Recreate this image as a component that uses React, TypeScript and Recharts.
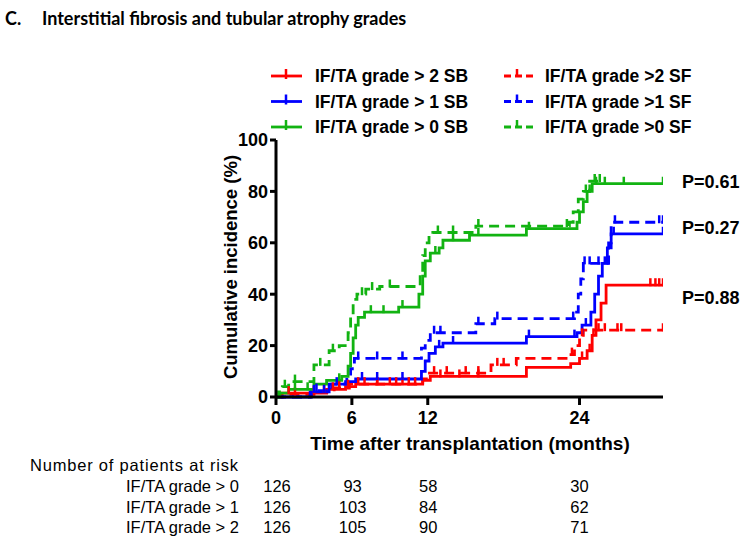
import React from "react";
import { LineChart, Line, XAxis, YAxis, ReferenceDot } from "recharts";

// time after transplantation (months), cumulative incidence (%)
const xTicks = [0, 6, 12, 24];
const yTicks = [0, 20, 40, 60, 80, 100];
const tMax = 30.6;

const sbGt2Steps = [[0, 0], [0.4, 1.5], [4, 3], [5.5, 4], [6.3, 5], [11.6, 6.5], [12.2, 8], [19.8, 11.5], [23.3, 13], [24, 15], [24.6, 18], [25, 24], [25.3, 30], [25.7, 36.5], [26.1, 43.5]];
const sbGt2Censor = [1, 3, 4.5, 5.7, 7, 8, 9, 10, 11, 13, 14.5, 16, 24.2, 24.8, 25.1, 29.6, 30, 30.3, 30.6];

const sfGt2Steps = [[0, 0], [0.5, 1], [3.5, 2], [4.6, 3.5], [5.8, 5], [11.6, 7], [12, 9.3], [17, 12.5], [19, 15], [23.2, 16.5], [23.6, 20], [24, 24], [24.3, 26]];
const sfGt2Censor = [1.5, 3.8, 5, 6.5, 8, 9.5, 10.5, 12.5, 13.5, 15, 16, 17.5, 18, 23.4, 24.2, 25.5, 26, 27, 27.3, 30.6];

const sbGt1Steps = [[0, 0], [2.7, 2], [4.2, 5], [5.5, 6], [6.3, 7], [11.5, 10], [11.8, 14], [12.1, 17], [12.6, 19.5], [13.2, 21], [19.8, 23.5], [23.8, 25], [24.2, 28], [24.9, 33], [25.2, 40], [25.5, 47], [25.8, 52], [26.2, 58], [26.5, 63.5]];
const sbGt1Censor = [3, 3.8, 6.8, 8, 10, 12.9, 14, 20, 23.6, 24.5, 26.7, 30.6];

const sfGt1Steps = [[0, 0], [2.8, 2.5], [4.4, 5], [5.6, 8], [5.9, 11], [6.2, 15], [11.5, 19], [11.8, 22], [12.2, 25], [15.8, 28.5], [17.3, 30.5], [23.6, 33], [23.9, 40], [24.1, 46], [24.3, 52], [26.3, 60], [26.5, 68]];
const sfGt1Censor = [3.2, 4.8, 6.5, 8, 10, 12.5, 13, 16, 17.5, 23.5, 24.4, 24.8, 25.5, 26, 26.8, 30.3, 30.6];

const sbGt0Steps = [[0, 0], [0.3, 1.5], [1, 3], [3, 5], [4, 6.5], [5.2, 8], [5.7, 12], [5.9, 17], [6.1, 23], [6.3, 28], [6.5, 31], [7, 33], [9.7, 35], [11.3, 40], [11.6, 47], [11.8, 53], [12.2, 56], [12.9, 58], [13.2, 61], [15.3, 63], [19.8, 65.5], [23.8, 68], [24, 72], [24.3, 76], [24.6, 80], [25, 83]];
const sbGt0Censor = [1.5, 2.5, 5, 7.5, 8.5, 10, 12.6, 14, 16, 20, 24.8, 25.3, 26, 27.5, 30.6];

const sfGt0Steps = [[0, 0], [0.2, 2], [0.5, 4], [1, 6], [3, 12.5], [4.2, 18], [5, 20], [5.7, 25], [5.9, 32], [6.1, 38], [6.4, 40], [7.1, 42], [8.2, 43], [11.4, 48], [11.6, 55], [11.8, 60], [12.1, 63], [12.4, 64], [15.8, 66.5], [23.2, 68], [23.5, 72], [23.9, 77], [24.3, 80], [24.8, 84]];
const sfGt0Censor = [0.7, 1.5, 3.5, 4.5, 6.8, 7.6, 9, 12.8, 14, 16, 23, 24.5, 25.2, 25.6];

const pLabels = ["P=0.61", "P=0.27", "P=0.88"];
const pLevels = [84, 65.8, 38.5];

const riskGroups = ["IF/TA grade > 0", "IF/TA grade > 1", "IF/TA grade > 2"];
const riskGt0 = [126, 93, 58, 30];
const riskGt1 = [126, 103, 84, 62];
const riskGt2 = [126, 105, 90, 71];

const RED = "#ff0000";
const BLUE = "#0000ff";
const GREEN = "#12b312";
const FONT = "'Liberation Sans', Arial, sans-serif";

type Pt = { t: number; v: number; c?: boolean };

function buildCurve(steps: number[][], censor: number[]): Pt[] {
  const pts: Pt[] = steps.map(([t, v]) => ({ t, v }));
  censor.forEach((ct) => {
    let v = 0;
    steps.forEach(([t, val]) => {
      if (t <= ct) v = val;
    });
    pts.push({ t: ct, v, c: true });
  });
  return pts.sort((a, b) => a.t - b.t);
}

const series = [
  { key: "sbGt2", data: buildCurve(sbGt2Steps, sbGt2Censor), color: RED, dashed: false },
  { key: "sfGt2", data: buildCurve(sfGt2Steps, sfGt2Censor), color: RED, dashed: true },
  { key: "sbGt1", data: buildCurve(sbGt1Steps, sbGt1Censor), color: BLUE, dashed: false },
  { key: "sfGt1", data: buildCurve(sfGt1Steps, sfGt1Censor), color: BLUE, dashed: true },
  { key: "sbGt0", data: buildCurve(sbGt0Steps, sbGt0Censor), color: GREEN, dashed: false },
  { key: "sfGt0", data: buildCurve(sfGt0Steps, sfGt0Censor), color: GREEN, dashed: true },
];

const legendRows = [
  { color: RED, sb: "IF/TA grade > 2 SB", sf: "IF/TA grade >2 SF" },
  { color: BLUE, sb: "IF/TA grade > 1 SB", sf: "IF/TA grade >1 SF" },
  { color: GREEN, sb: "IF/TA grade > 0 SB", sf: "IF/TA grade >0 SF" },
];

const censorTick = (color: string) => (props: any) => {
  const { cx, cy, payload, index } = props;
  if (!payload || !payload.c || cx == null || cy == null) return <g key={`n-${index}`} />;
  return <line key={`c-${index}`} x1={cx} x2={cx} y1={cy - 7} y2={cy + 1} stroke={color} strokeWidth={2.5} />;
};

const axisStyle = { stroke: "#000", strokeWidth: 3 };
const tickStyle = { fill: "#000", fontSize: 18, fontWeight: 700, fontFamily: FONT };

export default function App() {
  const riskCols = [riskGt0, riskGt1, riskGt2];
  return (
    <div style={{ position: "absolute", left: 0, top: 0, width: 750, height: 542, background: "#fff" }}>
      <LineChart width={750} height={542} margin={{ top: 140, right: 87, bottom: 115, left: 216 }}>
        <XAxis
          type="number"
          dataKey="t"
          domain={[0, tMax]}
          ticks={xTicks}
          allowDataOverflow
          height={30}
          tickSize={8}
          tickMargin={6}
          axisLine={axisStyle}
          tickLine={axisStyle}
          tick={tickStyle}
        />
        <YAxis
          type="number"
          domain={[0, 100]}
          ticks={yTicks}
          width={60}
          tickSize={6}
          tickMargin={2}
          axisLine={axisStyle}
          tickLine={axisStyle}
          tick={tickStyle}
        />
        {series.map((s) => (
          <Line
            key={s.key}
            data={s.data}
            dataKey="v"
            type="stepAfter"
            stroke={s.color}
            strokeWidth={2.8}
            strokeDasharray={s.dashed ? "10 6" : undefined}
            dot={censorTick(s.color)}
            activeDot={false}
            isAnimationActive={false}
          />
        ))}
        {pLabels.map((p, i) => (
          <ReferenceDot
            key={p}
            x={tMax}
            y={pLevels[i]}
            r={0}
            ifOverflow="visible"
            label={{ value: p, position: "right", offset: 19, fill: "#000", fontSize: 18, fontWeight: 700, fontFamily: FONT }}
          />
        ))}
      </LineChart>
      <svg width={750} height={542} style={{ position: "absolute", left: 0, top: 0, pointerEvents: "none" }}>
        <g fontFamily="Lato, 'Open Sans', sans-serif" fontWeight={700} fontSize={18} fill="#000">
          <text x={5} y={25}>C.</text>
          <text x={42} y={25}>Interstitial fibrosis and tubular atrophy grades</text>
        </g>
        {legendRows.map((r, i) => {
          const y = 76 + i * 25.5;
          return (
            <g key={r.sb}>
              <line x1={271} x2={302} y1={y} y2={y} stroke={r.color} strokeWidth={2.8} />
              <line x1={286} x2={286} y1={y - 7} y2={y + 3} stroke={r.color} strokeWidth={2.5} />
              <text x={315} y={y + 6} fontFamily={FONT} fontWeight={700} fontSize={17.5} fill="#000">{r.sb}</text>
              <line x1={504} x2={533} y1={y} y2={y} stroke={r.color} strokeWidth={2.8} strokeDasharray="7 4" />
              <line x1={517} x2={517} y1={y - 7} y2={y} stroke={r.color} strokeWidth={2.5} />
              <text x={545} y={y + 6} fontFamily={FONT} fontWeight={700} fontSize={17.5} fill="#000">{r.sf}</text>
            </g>
          );
        })}
        <text x={470} y={450} textAnchor="middle" fontFamily={FONT} fontWeight={700} fontSize={19} fill="#000">
          Time after transplantation (months)
        </text>
        <text
          x={0}
          y={0}
          transform="translate(237 267) rotate(-90)"
          textAnchor="middle"
          fontFamily={FONT}
          fontWeight={700}
          fontSize={18.5}
          fill="#000"
        >
          Cumulative incidence (%)
        </text>
        <g fontFamily={FONT} fontSize={16.5} fill="#000">
          <text x={30} y={471} letterSpacing={0.8}>Number of patients at risk</text>
          {riskGroups.map((g, i) => {
            const y = 492 + i * 20.5;
            return (
              <g key={g}>
                <text x={239} y={y} textAnchor="end">{g}</text>
                {riskCols[i].map((n, j) => (
                  <text key={j} x={277 + xTicks[j] * 12.6} y={y} textAnchor="middle">{n}</text>
                ))}
              </g>
            );
          })}
        </g>
      </svg>
    </div>
  );
}
